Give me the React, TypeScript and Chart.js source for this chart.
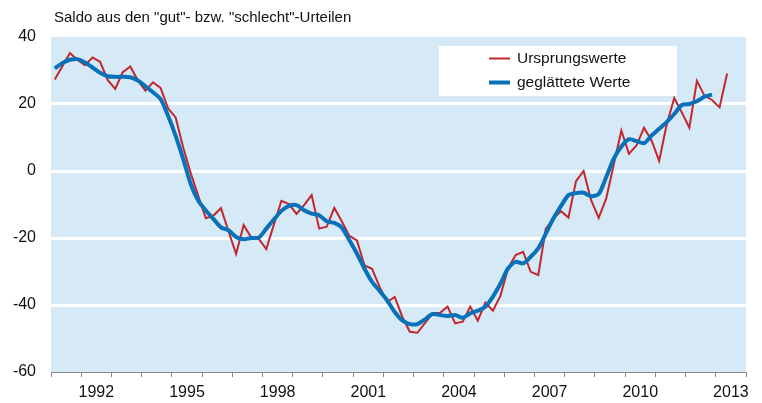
import React, { useEffect, useRef } from "react";
import { Chart, registerables } from "chart.js";

Chart.register(...registerables);

const startYear = 1991;
const endYear = 2013;
const yearLabels = [1992, 1995, 1998, 2001, 2004, 2007, 2010, 2013];
const yTicks = [-60, -40, -20, 0, 20, 40];

// Quarterly values, starting Q1 1991
const ursprungswerte = [
  27.3, 31.3, 35.2, 33.2, 31.6, 33.9, 32.6, 27.2, 24.5, 29.5,
  31.2, 27, 24, 26.5, 24.8, 18.7, 16, 7, -0.7, -7.5,
  -14.1, -13.3, -11.1, -18, -24.8, -16.1, -19.8, -20.3, -23.3, -16,
  -8.9, -9.9, -12.8, -10.2, -7.2, -17.2, -16.6, -11, -15.1, -19.4,
  -20.7, -28.2, -29.2, -34.6, -39.1, -37.6, -43.5, -48, -48.3, -45.4,
  -42.5, -42.3, -40.5, -45.5, -45, -40.5, -44.7, -39.3, -41.7, -37.2,
  -29.1, -25.1, -24.1, -30.1, -31.1, -17.2, -14.2, -12, -13.9, -3,
  0, -8.7, -14, -8.2, 2, 12.1, 5.1, 7.6, 12.9, 9.1,
  3, 13.9, 21.8, 17.5, 12.9, 26.9, 22.5, 21.2, 19, 29.1,
];

const geglaettet = [
  30.6, 32.2, 33.2, 33.4, 32.4, 30.9, 29.3, 28.3, 28.1, 28.1,
  28, 27, 25.3, 23.5, 21.5, 16.5, 10.5, 3.6, -3.9, -8.9,
  -11.8, -14.3, -16.8, -17.7, -19.7, -20.4, -20, -19.9, -17.2, -14.5,
  -11.9, -10.4, -10.2, -11.7, -12.7, -13.2, -15, -15.5, -16.9, -20.7,
  -24.7, -29.2, -33.1, -35.8, -38.6, -42.1, -44.6, -45.7, -45.7, -44.3,
  -42.7, -43, -43.3, -43, -43.8, -42.5, -41.7, -40.5, -37.5, -33.6,
  -29.1, -27.1, -27.6, -25.6, -23.1, -18.7, -14.2, -10.5, -7.2, -6.6,
  -6.5, -7.5, -6.9, -1.8, 3.7, 7.3, 9.5, 8.9, 8.3, 10.6,
  12.6, 14.6, 17, 19.7, 20, 20.8, 22.2, 22.8,
];

const seriesNames = ["Ursprungswerte", "geglättete Werte"];
const titleText = 'Saldo aus den "gut"- bzw. "schlecht"-Urteilen';

const RED = "#C1272D";
const BLUE = "#0871BA";
const BG = "#D5E9F6";
const FONT = "'Liberation Sans', Arial, sans-serif";

const totalQuarters = (endYear - startYear + 1) * 4;

const toPoints = (arr: number[]) => arr.map((v, i) => ({ x: i + 0.5, y: v }));

const decorPlugin = {
  id: "decor",
  beforeDraw(chart: any) {
    const { ctx, chartArea } = chart;
    const { left, top, right, bottom } = chartArea;
    ctx.save();
    ctx.fillStyle = BG;
    ctx.fillRect(left, top, right - left, bottom - top);
    ctx.restore();
  },
  afterDraw(chart: any) {
    const { ctx, chartArea } = chart;
    const { left, top } = chartArea;
    ctx.save();
    // title
    ctx.font = `15px ${FONT}`;
    ctx.fillStyle = "#111";
    ctx.textBaseline = "alphabetic";
    ctx.textAlign = "left";
    ctx.fillText(titleText, left + 3, 22);
    // legend
    const bx = left + 388;
    const by = top + 9;
    ctx.fillStyle = "#ffffff";
    ctx.fillRect(bx, by, 238, 50);
    ctx.font = `15.5px ${FONT}`;
    const items = [
      { label: seriesNames[0], color: RED, width: 2, y: by + 12.5 },
      { label: seriesNames[1], color: BLUE, width: 4, y: by + 36.5 },
    ];
    items.forEach((it) => {
      ctx.strokeStyle = it.color;
      ctx.lineWidth = it.width;
      ctx.beginPath();
      ctx.moveTo(bx + 50, it.y);
      ctx.lineTo(bx + 71, it.y);
      ctx.stroke();
      ctx.fillStyle = "#111";
      ctx.textBaseline = "middle";
      ctx.fillText(it.label, bx + 78, it.y);
    });
    ctx.restore();
  },
};

export default function App() {
  const ref = useRef<HTMLCanvasElement | null>(null);
  useEffect(() => {
    if (!ref.current) return;
    const chart = new Chart(ref.current, {
      type: "line",
      data: {
        datasets: [
          {
            label: seriesNames[0],
            data: toPoints(ursprungswerte),
            borderColor: RED,
            borderWidth: 2,
            pointRadius: 0,
            tension: 0,
            order: 2,
          },
          {
            label: seriesNames[1],
            data: toPoints(geglaettet),
            borderColor: BLUE,
            borderWidth: 4,
            pointRadius: 0,
            tension: 0.25,
            order: 1,
          },
        ],
      },
      options: {
        responsive: false,
        animation: false,
        events: [],
        layout: { padding: { top: 37, right: 16, left: 0, bottom: 0 } },
        plugins: { legend: { display: false }, tooltip: { enabled: false }, title: { display: false } },
        scales: {
          x: {
            type: "linear",
            min: 0,
            max: totalQuarters,
            afterBuildTicks: (scale: any) => {
              const t = [];
              for (let v = 0; v <= totalQuarters; v += 2) t.push({ value: v });
              scale.ticks = t;
            },
            afterFit: (scale: any) => {
              scale.height = 31;
            },
            ticks: {
              autoSkip: false,
              maxRotation: 0,
              padding: 6,
              color: "#111",
              font: { family: FONT, size: 16 },
              callback: (value: any) => {
                const v = Number(value);
                if (v % 4 !== 2) return "";
                const year = startYear + (v - 2) / 4;
                return yearLabels.includes(year) ? String(year) : "";
              },
            },
            grid: {
              drawOnChartArea: false,
              drawTicks: true,
              tickLength: 5,
              lineWidth: 1,
              color: (ctx: any) => (ctx.tick && ctx.tick.value % 4 === 0 ? "#8a8a8a" : "rgba(0,0,0,0)"),
            },
            border: { display: true, color: "#8a8a8a", width: 1 },
          },
          y: {
            min: -60,
            max: 40,
            afterBuildTicks: (scale: any) => {
              scale.ticks = yTicks.map((v) => ({ value: v }));
            },
            afterFit: (scale: any) => {
              scale.width = 51;
            },
            ticks: {
              padding: 15,
              color: "#111",
              font: { family: FONT, size: 16 },
            },
            grid: {
              drawTicks: false,
              lineWidth: 3,
              color: (ctx: any) =>
                ctx.tick && ctx.tick.value > -60 && ctx.tick.value < 40 ? "#ffffff" : "rgba(0,0,0,0)",
            },
            border: { display: false },
          },
        },
      },
      plugins: [decorPlugin],
    });
    return () => chart.destroy();
  }, []);
  return (
    <div style={{ position: "absolute", left: 0, top: 0, width: 762, height: 403 }}>
      <canvas ref={ref} width={762} height={403} style={{ display: "block" }} />
    </div>
  );
}
